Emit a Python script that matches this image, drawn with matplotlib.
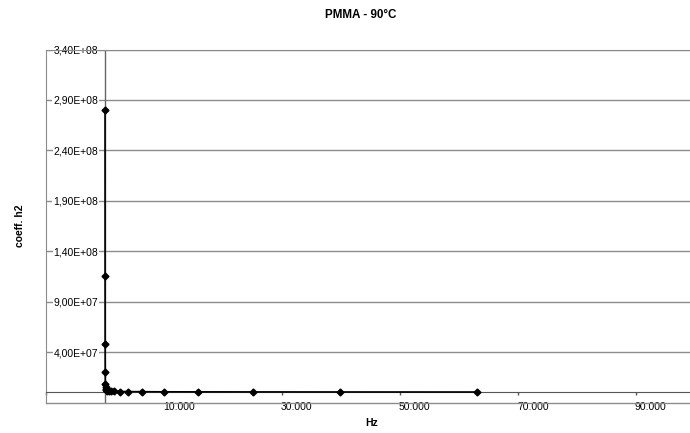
import numpy as np
import matplotlib
matplotlib.use('Agg')
import matplotlib.pyplot as plt
import matplotlib.transforms as mtransforms
from matplotlib.ticker import FuncFormatter

# frequency sweep (Hz) and measured coefficient h2
freq = [10, 15.8, 25.1, 39.8, 63.1, 100, 158, 251, 398, 631, 1000, 1585,
        2512, 3981, 6310, 10000, 15849, 25119, 39811, 63096]
h2 = [2.80e8, 1.15e8, 4.80e7, 2.00e7, 8.30e6, 5.00e6, 3.00e6, 2.20e6,
      1.80e6, 1.50e6, 1.20e6, 1.00e6, 9.00e5, 8.00e5, 7.00e5, 6.00e5,
      5.50e5, 5.00e5, 4.50e5, 4.00e5]

x_ticks = [-10000, 10000, 30000, 50000, 70000, 90000]
y_ticks = [4.0e7, 9.0e7, 1.4e8, 1.9e8, 2.4e8, 2.9e8, 3.4e8]

plt.rcParams['font.family'] = ['Liberation Sans', 'DejaVu Sans']

fig = plt.figure(figsize=(6.9, 4.33), dpi=100)
ax = fig.add_axes([46/690, (433-402.5)/433, 644/690, 353/433])

ax.set_xlim(-10000, 99200)
ax.set_ylim(-1.0e7, 3.4e8)

# gridlines, frame and the vertical axis line through zero
ax.set_yticks(y_ticks)
ax.yaxis.grid(True, color='#8c8c8c', linewidth=1.0)
ax.axvline(0, color='#666666', linewidth=1.0, zorder=1.8)
ax.axhline(-1.0e7, color='#8c8c8c', linewidth=1.0, clip_on=False)

ax.plot(freq, h2, color='black', linewidth=1.2, marker='D', markersize=3.5,
        zorder=3)

ax.spines['left'].set_color('#8c8c8c')
ax.spines['top'].set_color('#8c8c8c')
ax.spines['right'].set_visible(False)
# x axis line crosses at zero
ax.spines['bottom'].set_position(('data', 0))
ax.spines['bottom'].set_color('#555555')

# y labels sit inside the plot, left of the zero line
ax.yaxis.set_major_formatter(FuncFormatter(
    lambda v, p: ('%.2E' % v).replace('.', ',')))
ax.tick_params(axis='y', length=0, pad=-37.5, labelsize=7.5)
for lbl in ax.get_yticklabels():
    lbl.set_horizontalalignment('right')
    lbl.set_bbox(dict(facecolor='white', edgecolor='none', pad=0.5))

# x labels below the frame, shifted a bit right like the original
ax.set_xticks(x_ticks)
ax.xaxis.set_major_formatter(FuncFormatter(
    lambda v, p: '' if v < 0 else '{:,.0f}'.format(v).replace(',', '.')))
ax.tick_params(axis='x', direction='out', length=2.5, width=1.0,
               color='#555555', pad=4.5, labelsize=7.5)
shift = mtransforms.ScaledTranslation(15/100, 0, fig.dpi_scale_trans)
for lbl in ax.get_xticklabels():
    lbl.set_transform(lbl.get_transform() + shift)

fig.text(361/690, 1 - 15/433, 'PMMA - 90°C', ha='center', va='center',
         fontsize=8.4, fontweight='bold')
fig.text(20/690, 1 - 226/433, 'coeff. h2', ha='center', va='center',
         rotation=90, fontsize=7.5, fontweight='bold')
fig.text(372/690, 1 - 423/433, 'Hz', ha='center', va='center',
         fontsize=7.5, fontweight='bold')

fig.savefig('out.png', dpi=100)
